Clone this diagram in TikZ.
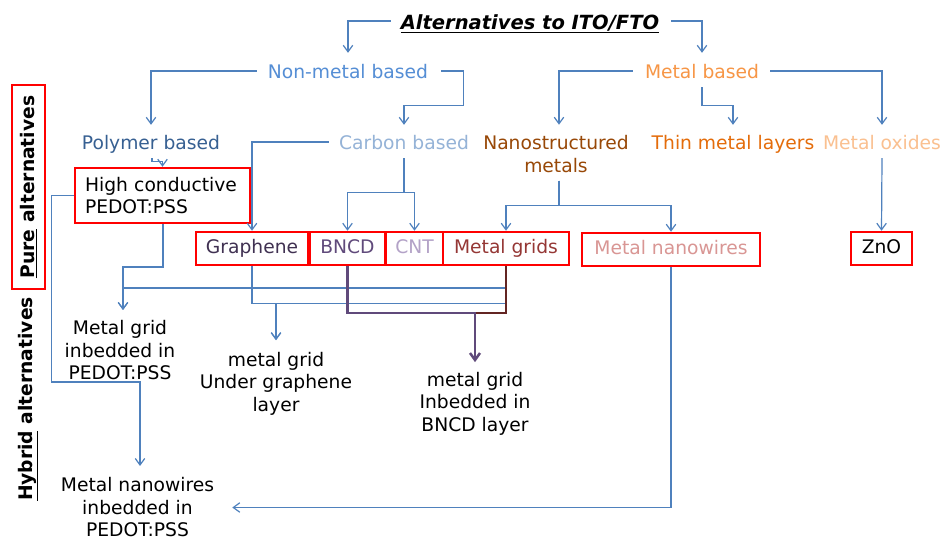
\documentclass[tikz,border=0pt]{standalone}
\usepackage{fontspec}
\setmainfont{DejaVu Sans}
\usetikzlibrary{arrows.meta}
\definecolor{cblue}{HTML}{4F81BD}
\definecolor{cnonmetal}{HTML}{558ED5}
\definecolor{cpoly}{HTML}{376092}
\definecolor{ccarbon}{HTML}{95B3D7}
\definecolor{cmetal}{HTML}{F79646}
\definecolor{cnano}{HTML}{984807}
\definecolor{cthin}{HTML}{E46C0A}
\definecolor{coxide}{HTML}{FAC090}
\definecolor{cgraph}{HTML}{403152}
\definecolor{cbncd}{HTML}{604A7B}
\definecolor{ccnt}{HTML}{B3A2C7}
\definecolor{cmgrid}{HTML}{953735}
\definecolor{cmnw}{HTML}{D99694}
\definecolor{cdred}{HTML}{632523}
\begin{document}
\begin{tikzpicture}[x=1pt,y=-1pt,
  txt/.style={font=\fontsize{18.7}{22.5}\selectfont, inner sep=0pt},
  one/.style={txt, text height=13.5pt, text depth=3.5pt},
  multi/.style={txt, align=center},
  rbox/.style={one, draw=red, line width=2.5pt, minimum height=33pt},
  conn/.style={draw=cblue, line width=1.2pt, -{Straight Barb[length=6.5pt,width=9.5pt]}},
  purp/.style={draw=cbncd, line width=2.5pt, -{Straight Barb[length=7pt,width=10pt]}},
  dred/.style={draw=cdred, line width=2.5pt}
]
\useasboundingbox (0,0) rectangle (944,541);
\fill[white] (0,0) rectangle (944,541);

% title and first level
\node[one, font=\fontsize{19.5}{23}\selectfont\bfseries\itshape] (title) at (530,24) {\underline{Alternatives to ITO/FTO}};
\node[one, text=cnonmetal] (nonmetal) at (348,73) {Non-metal based};
\node[one, text=cmetal] (metal) at (702,73) {Metal based};

% second level
\node[one, text=cpoly] (polymer) at (151,144) {Polymer based};
\node[one, text=ccarbon] (carbon) at (404,144) {Carbon based};
\node[multi, text=cnano] (nano) at (556,154) {Nanostructured\\metals};
\node[one, text=cthin] (thin) at (733,144) {Thin metal layers};
\node[one, text=coxide] (oxides) at (882,144) {Metal oxides};

% boxes
\node[txt, draw=red, line width=2.5pt, text width=155pt, inner xsep=10pt, align=left, minimum height=55pt] (highc) at (162.5,195.5) {High conductive\\PEDOT:PSS};
\node[rbox, text=cgraph, minimum width=112pt] (graphene) at (252,248.5) {Graphene};
\node[rbox, text=cbncd, minimum width=75pt] (bncd) at (347.5,248.5) {BNCD};
\node[rbox, text=ccnt, minimum width=57pt] (cnt) at (414.5,248.5) {CNT};
\node[rbox, text=cmgrid, minimum width=126pt] (mgrids) at (506,248.5) {Metal grids};
\node[rbox, text=cmnw, minimum width=178pt] (mnw) at (671,249.5) {Metal nanowires};
\node[rbox, minimum width=61pt] (zno) at (881.5,248.5) {ZnO};

% hybrid results
\node[multi] (mgpedot) at (120,350.5) {Metal grid\\inbedded in\\PEDOT:PSS};
\node[multi] (mgunder) at (276,383.5) {metal grid\\Under graphene\\layer};
\node[multi] (mgbncd) at (475,403.5) {metal grid\\Inbedded in\\BNCD layer};
\node[multi] (nwpedot) at (137.5,507.5) {Metal nanowires\\inbedded in\\PEDOT:PSS};

% side labels
\node[txt, draw=red, line width=2.5pt, rotate=90, minimum width=204pt, minimum height=33pt] (pure) at (28.5,187) {\textbf{\underline{Pure} alternatives}};
\node[txt, rotate=90] (hybrid) at (28,399) {\textbf{\underline{Hybrid} alternatives}};

% top connectors
\draw[conn] ([xshift=-10pt,yshift=3pt]title.west) -| ([yshift=11.5pt]nonmetal.north);
\draw[conn] ([xshift=12pt,yshift=3pt]title.east) -| ([yshift=11.5pt]metal.north);
\draw[conn] ([xshift=-11pt,yshift=2pt]nonmetal.west) -| ([yshift=10.5pt]polymer.north);
\draw[conn] ([xshift=13pt,yshift=2pt]nonmetal.east) -- ++(22pt,0pt) |- ([yshift=29.5pt]carbon.north) -- ([yshift=10.5pt]carbon.north);
\draw[conn] ([xshift=-12pt,yshift=2pt]metal.west) -| ([xshift=3pt,yshift=10.6pt]nano.north);
\draw[conn] ([xshift=11pt,yshift=2pt]metal.east) -| ([yshift=10.5pt]oxides.north);
\draw[conn] ([yshift=-5.5pt]metal.south) |- ([yshift=29.5pt]thin.north) -- ([yshift=10.5pt]thin.north);

% second level to boxes
\draw[conn] ([xshift=1pt,yshift=-5.5pt]polymer.south) |- ([yshift=5pt]highc.north) -- (highc.north);
\draw[conn] ([xshift=-10pt,yshift=2pt]carbon.west) -| (graphene.north);
\draw[conn] ([yshift=-5.5pt]carbon.south) |- ([yshift=38pt]bncd.north) -- (bncd.north);
\draw[conn] ([yshift=-5.5pt]carbon.south) |- ([yshift=38pt]cnt.north) -- (cnt.north);
\draw[conn] ([xshift=3pt,yshift=-8pt]nano.south) |- ([yshift=25pt]mgrids.north) -- (mgrids.north);
\draw[conn] ([xshift=3pt,yshift=-8pt]nano.south) |- ([yshift=26pt]mnw.north) -- (mnw.north);
\draw[conn] ([yshift=-5.5pt]oxides.south) -- (zno.north);

% lower connectors
\draw[conn] (highc.west) -- ++(-22pt,0pt) |- ([xshift=2.5pt,yshift=95.6pt]nwpedot.north) -- ([xshift=2.5pt,yshift=11.6pt]nwpedot.north);
\draw[conn] ([xshift=0.5pt]highc.south) |- ([xshift=3pt,yshift=53.6pt]mgpedot.north) -- ([xshift=3pt,yshift=10.6pt]mgpedot.north);
\draw[conn] (mgrids.south) |- ([xshift=3pt,yshift=32.6pt]mgpedot.north) -- ([xshift=3pt,yshift=10.6pt]mgpedot.north);
\draw[conn] (graphene.south) |- ([yshift=48.6pt]mgunder.north) -- ([yshift=11.6pt]mgunder.north);
\draw[conn] (mgrids.south) |- ([yshift=48.6pt]mgunder.north) -- ([yshift=11.6pt]mgunder.north);
\draw[conn] (mnw.south) |- ([xshift=18pt]nwpedot.east);
\draw[dred] (mgrids.south) |- ([yshift=58.6pt]mgbncd.north);
\draw[purp] (bncd.south) |- ([yshift=58.6pt]mgbncd.north) -- ([yshift=9.6pt]mgbncd.north);
\end{tikzpicture}
\end{document}
